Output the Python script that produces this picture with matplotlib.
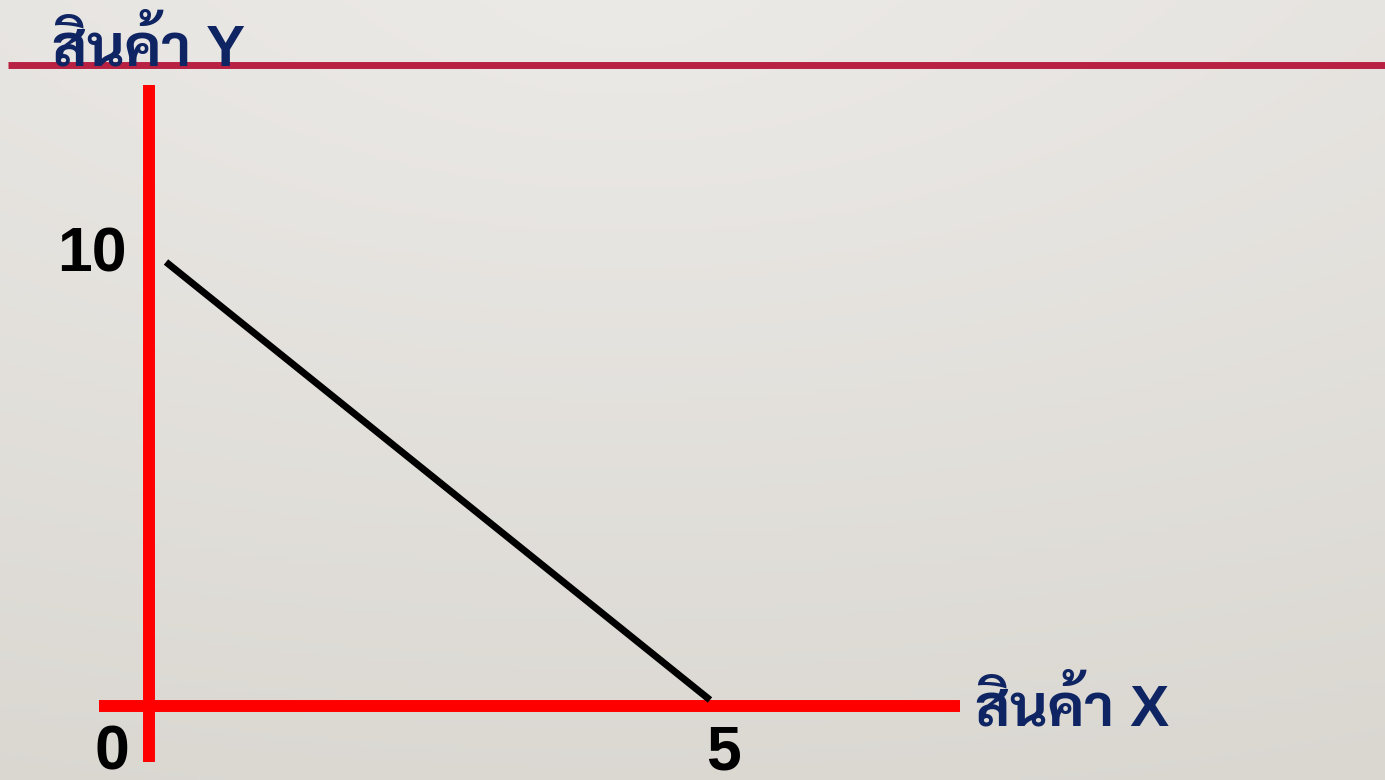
import numpy as np
import matplotlib
matplotlib.use("Agg")
import matplotlib.pyplot as plt

# budget line: 10 units of Y or 5 units of X
line_x = [0, 5]
line_y = [10, 0]
x_ticks = [0, 5]
y_ticks = [10]
x_label = "สินค้า X"
y_label = "สินค้า Y"

thai = ['Liberation Sans', 'Sarabun', 'Noto Sans Thai Looped', 'Noto Sans Thai', 'DejaVu Sans']
navy = '#0f2463'

fig = plt.figure(figsize=(13.85, 7.8), dpi=100)

# slide background, light grey gradient
bg = fig.add_axes([0, 0, 1, 1])
yy, xx = np.mgrid[0:1:200j, 0:1:350j]
shade = 0.6 * np.hypot(xx - 0.45, yy) + 0.4 * yy
shade = shade / shade.max()
c0 = np.array([236, 234, 231]) / 255
c1 = np.array([218, 215, 209]) / 255
img = c0[None, None, :] * (1 - shade[..., None]) + c1[None, None, :] * shade[..., None]
bg.imshow(img, extent=[0, 1, 0, 1], aspect='auto', origin='upper')
bg.axis('off')

ax = fig.add_axes([0, 0, 1, 1])
ax.patch.set_alpha(0)
ax.set_xlim(-1.5257, 11.204)
ax.set_ylim(-1.8265, 15.982)
ax.axis('off')

# red axes
ax.plot([-0.156, -0.156], [-1.416, 14.04], color='#ff0000', lw=8.6, solid_capstyle='butt')
ax.plot([-0.616, 7.298], [-0.126, -0.126], color='#ff0000', lw=8.6, solid_capstyle='butt')

# budget line
ax.plot(line_x, line_y, color='black', lw=5, solid_capstyle='butt')

# tick numbers
ax.annotate(str(y_ticks[0]), (0, y_ticks[0]), xytext=(-28, -6.5), textcoords='offset points',
            ha='right', va='baseline', fontsize=45, fontweight='bold', family='Liberation Sans')
ax.annotate(str(x_ticks[0]), (x_ticks[0], 0), xytext=(-39, -50), textcoords='offset points',
            ha='center', va='baseline', fontsize=45, fontweight='bold', family='Liberation Sans')
ax.annotate(str(x_ticks[1]), (x_ticks[1], 0), xytext=(10, -50), textcoords='offset points',
            ha='center', va='baseline', fontsize=45, fontweight='bold', family='Liberation Sans')

# title rule
fig.add_artist(plt.Line2D([8 / 1385, 1], [1 - 64.5 / 780] * 2, color='#b82142', lw=5,
                          solid_capstyle='butt'))

fig.text(52 / 1385, 1 - 66 / 780, y_label, ha='left', va='baseline', fontsize=42,
         fontweight='bold', color=navy, family=thai)
fig.text(975 / 1385, 1 - 725 / 780, x_label, ha='left', va='baseline', fontsize=42,
         fontweight='bold', color=navy, family=thai)

fig.savefig('out.png', dpi=100)
